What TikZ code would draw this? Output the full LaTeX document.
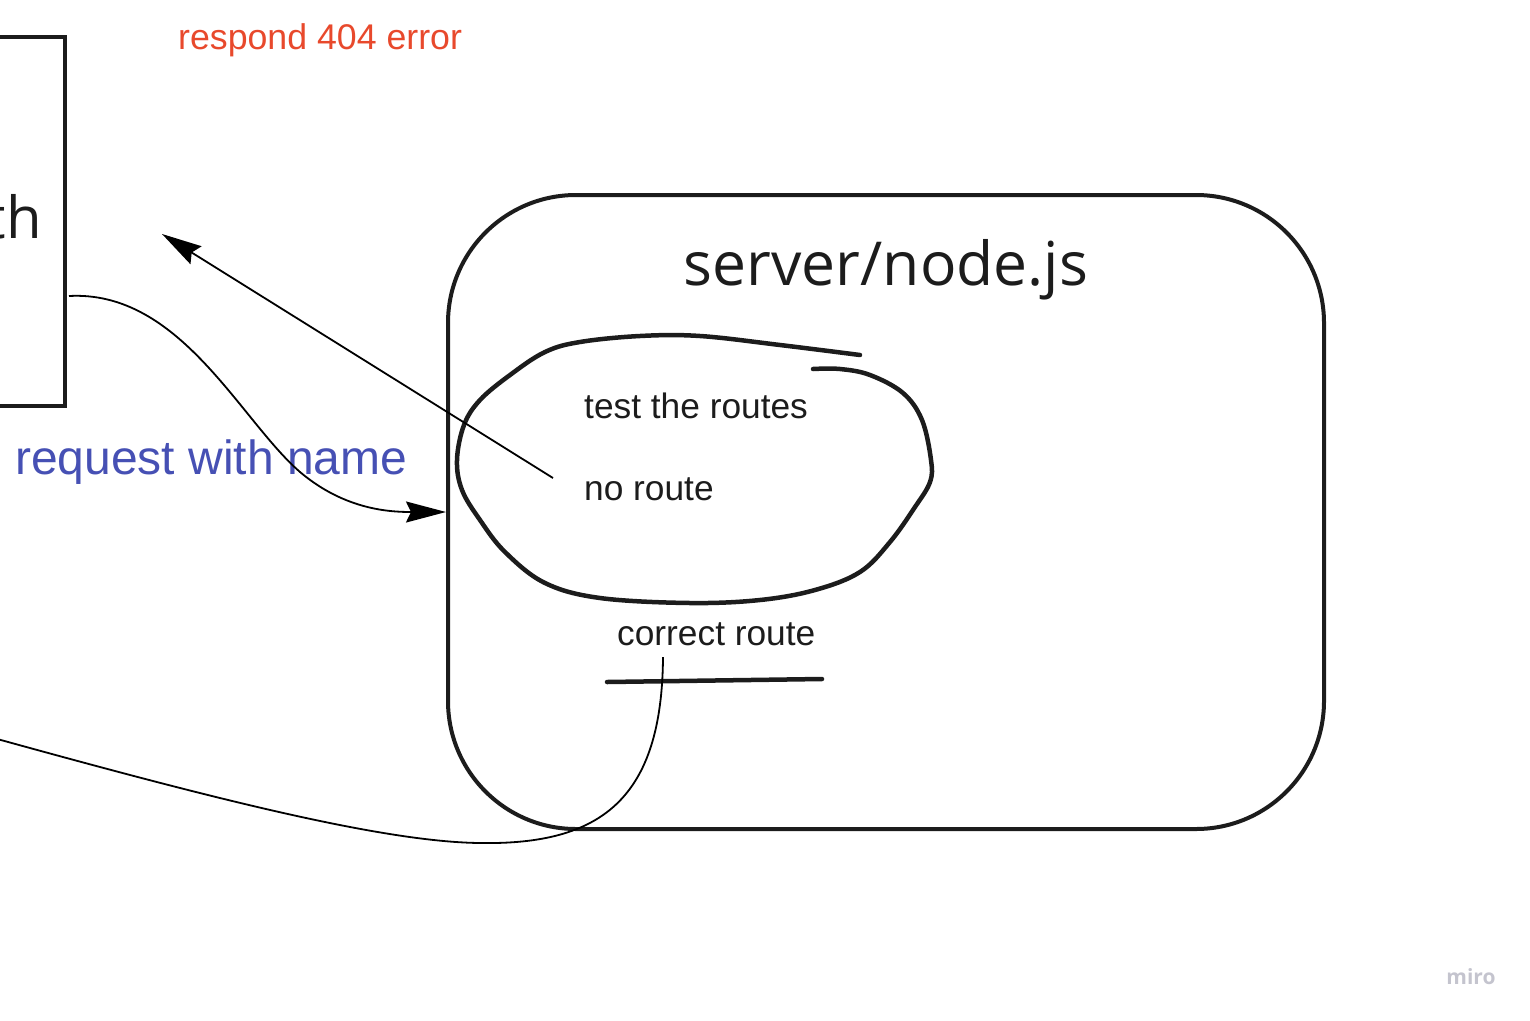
\documentclass[tikz,border=0pt]{standalone}
\usepackage{fontspec}
\setmainfont{Liberation Sans}
\newfontfamily\opensans{Open Sans}
\usepackage{tikz}
\usetikzlibrary{arrows.meta, positioning, calc}
\definecolor{inkdark}{HTML}{1C1C1C}
\definecolor{errred}{HTML}{E8492C}
\definecolor{reqblue}{HTML}{4650B4}
\definecolor{mirogray}{HTML}{C4C4CE}
\tikzset{
  box_n/.style = {rectangle, draw=inkdark, line width=4pt, inner sep=0pt},
  txt_n/.style = {inner sep=0pt, anchor=base west, text=inkdark, font=\fontsize{35.3}{35}\selectfont},
  big_t/.style = {inner sep=0pt, text=inkdark, font=\opensans\fontsize{60.6}{60}\selectfont},
  pen_l/.style = {draw=inkdark, line width=4.5pt, line cap=round, line join=round},
  wire/.style = {draw=black, line width=1.8pt},
  tip/.style = {-{Stealth[length=40pt,width=21pt,inset=5pt]}}
}

\begin{document}
\begin{tikzpicture}[x=1pt,y=-1pt]
  \useasboundingbox (0,0) rectangle (1530,1020);
  \clip (0,0) rectangle (1530,1020);
  \node [box_n, minimum width=400pt, minimum height=369pt] (client) at (-135,221.5) {};
  \node [big_t, anchor=base east, font=\opensans\fontsize{58}{58}\selectfont] (clientlbl) at (42,238) {th};
  \node [box_n, rounded corners=128pt, minimum width=876pt, minimum height=634pt] (server) at (886,512) {};
  \node [big_t, anchor=base] (srvtitle) at (886,285) {server/node.js};
  \draw [pen_l] plot [smooth, tension=0.6] coordinates {(860,355) (780,345) (700,336) (640,336) (580,342) (545,352) (510,375) (480,400) (464,425) (457,460) (462,490) (480,520) (505,552) (545,583) (600,598) (690,603) (760,600) (815,590) (860,572) (890,542) (915,507) (930,482) (931,460) (922,420) (903,393) (870,375) (840,369) (813,369)};
  \draw [pen_l] (607,682) -- (822,679);
  \node [txt_n] (testlbl) at (584,418) {test the routes};
  \node [txt_n] (nolbl) at (584,500) {no route};
  \node [txt_n] (oklbl) at (617,645) {correct route};
  \node [txt_n, text=errred, font=\fontsize{35.7}{36}\selectfont] (errlbl) at (178,49) {respond 404 error};
  \node [txt_n, text=reqblue, font=\fontsize{48}{48}\selectfont] (reqlbl) at (15,474) {request with name};
  \node [inner sep=0pt, text=mirogray, font=\opensans\fontsize{21}{21}\selectfont\bfseries] (miro) at (1471,977) {miro};
  \coordinate (reqout) at (69,296);
  \coordinate (nostart) at (553,478);
  \coordinate (errtip) at (162,234);
  \coordinate (okin) at (663,657);
  \coordinate (offleft) at (-10,737);
  \draw [wire, tip] (reqout) .. controls (180,290) and (240,420) .. (300,472) .. controls (345,510) and (390,512) .. (server.west);
  \draw [wire, tip] (nostart) -- (errtip);
  \draw [wire] (okin) .. controls (662,800) and (600,845) .. (480,843) .. controls (380,842) and (200,795) .. (offleft);
\end{tikzpicture}
\end{document}
